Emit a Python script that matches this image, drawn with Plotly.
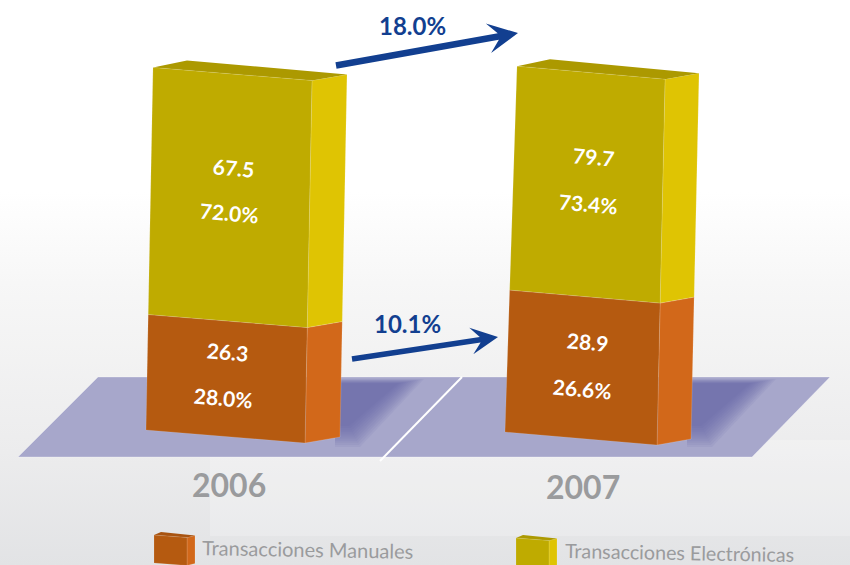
import plotly.graph_objects as go

# ---------- data ----------
years = ["2006", "2007"]
manual_values = [26.3, 28.9]
electronic_values = [67.5, 79.7]
manual_shares = ["28.0%", "26.6%"]
electronic_shares = ["72.0%", "73.4%"]
manual_growth = "10.1%"
electronic_growth = "18.0%"
series_names = ["Transacciones Manuales", "Transacciones Electrónicas"]

# ---------- drawing configuration ----------
W, H = 850, 565
# the source infographic is not drawn to a single scale: px per unit for each segment
manual_scale = [4.39, 4.91]
electronic_scale = [3.66, 2.81]
bars = [
    dict(x=146, y=430, w=159, dy=13, lean_l=0.0193, lean_r=0.0193, depth=(35, -6)),
    dict(x=505, y=432, w=152, dy=13, lean_l=0.0328, lean_r=0.0220, depth=(34, -6)),
]
YEL_FRONT, YEL_SIDE, YEL_TOP = "#bfab00", "#dfc403", "#ac9900"
ORA_FRONT, ORA_SIDE = "#b55a10", "#d2681a"
PLANE = "#a7a7cb"
SHADOW = "rgba(88,88,160,0.085)"
BLUE = "#123f90"
GREY = "#9a9b9d"
FONT = "Lato"

fig = go.Figure()


def poly(pts, color, line=None, lw=0):
    xs = [p[0] for p in pts] + [pts[0][0]]
    ys = [p[1] for p in pts] + [pts[0][1]]
    fig.add_trace(go.Scatter(
        x=xs, y=ys, mode="lines", fill="toself", fillcolor=color,
        line=dict(color=line or "rgba(0,0,0,0)", width=lw),
        hoverinfo="skip", showlegend=False))


def seg(b, h0, h1, front, side, top=None):
    """One skewed 3-D block between stacked heights h0 and h1."""
    a = (b["x"] + b["lean_l"] * h0, b["y"] - h0)
    c = (b["x"] + b["lean_l"] * h1, b["y"] - h1)
    r0 = (b["x"] + b["w"] + b["lean_r"] * h0, b["y"] + b["dy"] - h0)
    r1 = (b["x"] + b["w"] + b["lean_r"] * h1, b["y"] + b["dy"] - h1)
    dx, dy = b["depth"]
    poly([r0, r1, (r1[0] + dx, r1[1] + dy), (r0[0] + dx, r0[1] + dy)], side,
         "rgba(255,255,255,0.25)", 0.6)
    if top:
        poly([c, r1, (r1[0] + dx, r1[1] + dy), (c[0] + dx - 1, c[1] + dy - 1)], top)
    poly([a, r0, r1, c], front, "rgba(255,255,255,0.22)", 0.6)


def arrow(x0, y0, x1, y1, shaft=6.5, head=30, half=15, notch=10):
    dx, dy = x1 - x0, y1 - y0
    n = (dx * dx + dy * dy) ** 0.5
    ux, uy = dx / n, dy / n
    px, py = -uy, ux
    at = lambda along, off: (x0 + ux * along + px * off, y0 + uy * along + py * off)
    poly([at(0, -shaft / 2), at(n - head + notch, -shaft / 2), at(n - head, -half), at(n, 0),
          at(n - head, half), at(n - head + notch, shaft / 2), at(0, shaft / 2)], BLUE)


# background gradient
fig.add_trace(go.Scatter(
    x=[0, W, W, 0, 0], y=[0, 0, H, H, 0], mode="lines", fill="toself",
    line=dict(width=0, color="rgba(0,0,0,0)"),
    fillgradient=dict(type="vertical", start=0, stop=H,
                      colorscale=[[0, "#ffffff"], [0.34, "#ffffff"], [0.5, "#f7f7f7"],
                                  [0.8, "#ececed"], [1, "#e2e3e5"]]),
    hoverinfo="skip", showlegend=False))
# faint lighter panels of the source artwork
poly([(210, 440), (W, 440), (W, 536), (210, 536)], "rgba(255,255,255,0.22)")

# floor
poly([(98, 377), (830, 377), (752, 457), (18, 457)], PLANE, "rgba(255,255,255,0.35)", 0.8)

# soft shadows (layered)
for ox in (0, 352):
    for k in range(11):
        i = k * 3
        poly([(335 + ox, 379 + i * 0.15), (424 + ox - i * 0.85, 379 + i * 0.15),
              (360 + ox - i * 0.35, 447 - i * 0.7), (335 + ox, 447 - i * 0.7)], SHADOW)

# floor divider
fig.add_trace(go.Scatter(x=[380, 462], y=[461, 377], mode="lines",
                         line=dict(color="#ffffff", width=2),
                         hoverinfo="skip", showlegend=False))

# bars
for i, b in enumerate(bars):
    hm = manual_values[i] * manual_scale[i]
    he = electronic_values[i] * electronic_scale[i]
    seg(b, 0, hm, ORA_FRONT, ORA_SIDE)
    seg(b, hm, hm + he, YEL_FRONT, YEL_SIDE, YEL_TOP)

# growth arrows
arrow(336, 65.5, 518, 33)
arrow(352, 359, 498, 337, shaft=5.5, head=27, half=13.5, notch=9)

# legend swatches (same block drawing as the bars)
swatches = [
    (dict(x=154, y=563, w=33, dy=2.5, lean_l=0, lean_r=0, depth=(8, -2)), ORA_FRONT, ORA_SIDE, "#a85310"),
    (dict(x=516, y=566, w=33, dy=2.5, lean_l=0, lean_r=0, depth=(8, -2)), YEL_FRONT, YEL_SIDE, YEL_TOP),
]
for b, f, s, t in swatches:
    seg(b, 0, 28, f, s, t)


def text(s, x, y, size, color, angle=0, weight=700):
    fig.add_annotation(x=x, y=y, text=s, showarrow=False, textangle=angle,
                       font=dict(family=FONT, size=size, color=color, weight=weight),
                       xanchor="center", yanchor="middle")


value_pos = [((234, 167), (229, 212), (228, 351), (223, 397)),
             ((594, 156), (588, 203), (588, 341), (582, 388))]
for i in range(2):
    p = value_pos[i]
    text(f"{electronic_values[i]}", *p[0], 21, "#ffffff", 5)
    text(electronic_shares[i], *p[1], 21, "#ffffff", 5)
    text(f"{manual_values[i]}", *p[2], 21, "#ffffff", 5)
    text(manual_shares[i], *p[3], 21, "#ffffff", 5)

text(years[0], 229, 484, 32, GREY)
text(years[1], 583, 486, 32, GREY)
text(electronic_growth, 412, 25, 24, BLUE)
text(manual_growth, 407, 323, 24, BLUE)
text(series_names[0], 307.5, 549, 20, GREY, 1, 400)
text(series_names[1], 679, 552, 19.7, GREY, 1, 400)

fig.update_layout(
    width=W, height=H, margin=dict(l=0, r=0, t=0, b=0),
    paper_bgcolor="#ffffff", plot_bgcolor="#ffffff", showlegend=False,
    xaxis=dict(range=[0, W], visible=False, fixedrange=True),
    yaxis=dict(range=[H, 0], visible=False, fixedrange=True),
)
fig.write_html("out.html", config=dict(displayModeBar=False),
               post_script="document.documentElement.style.overflow='hidden';document.body.style.margin='0';")
